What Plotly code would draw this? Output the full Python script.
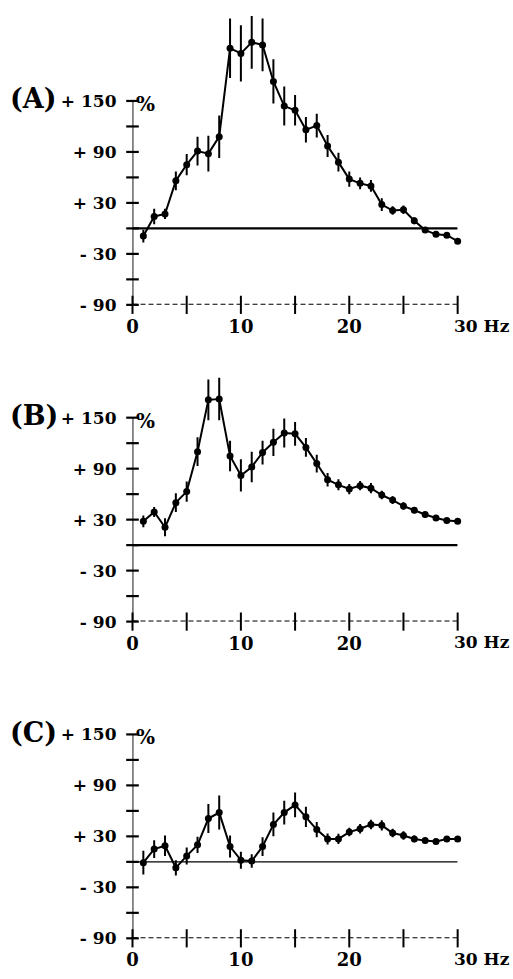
import plotly.graph_objects as go

# ---- data ----
freq_hz = list(range(1, 31))

panel_a = [-9, 14, 17, 56, 75, 91, 88, 108, 212, 206, 219, 216, 173, 144, 139,
           116, 121, 97, 78, 58, 53, 50, 28, 21, 22, 9, -2, -7, -8, -15]
panel_a_err = [7.5, 9, 6, 11, 12.5, 17, 21, 25, 35, 33, 31, 31, 26, 23, 18,
               15, 14, 13, 11, 9, 7, 7, 7.5, 5, 5, 4, 3.5, 3, 3, 3]

panel_b = [28, 39, 21, 50, 63, 110, 171, 172, 105, 82, 92, 109, 121, 132, 131,
           115, 96, 77, 71, 66, 70, 67, 59, 53, 46, 41, 36, 32, 29, 28]
panel_b_err = [7, 6, 10.5, 11, 12, 17, 24, 25, 18, 19, 18, 14, 16, 17, 14,
               11, 10.5, 8, 6.5, 6, 5.5, 6, 5, 4.5, 4.5, 3.5, 3, 3, 2.5, 2.5]

panel_c = [-1, 15, 19, -7, 7, 20, 51, 58, 18, 2, 1, 18, 44, 58, 67,
           53, 38, 27, 27, 35, 39, 44, 43, 34, 31, 27, 25, 24, 27, 27]
panel_c_err = [14, 10.5, 12, 9, 10, 9.5, 17, 20, 13, 10, 8, 11, 14, 14, 14.5,
               12, 9, 6.5, 6, 5, 5.5, 5.5, 6, 5, 5, 4, 3.5, 3, 3, 3]

panel_labels = ["(A)", "(B)", "(C)"]
y_tickvals = [-90, -60, -30, 0, 30, 60, 90, 120, 150]
y_ticktext = ["- 90", "", "- 30", "", "+ 30", "", "+ 90", "", "+ 150"]
x_tickvals = [0, 5, 10, 15, 20, 25, 30]
x_labelvals = [0, 10, 20]
x_labeltext = ["0", "10", "20"]
x_last_label = "30 Hz"
unit_label = "%"

series = [(panel_a, panel_a_err), (panel_b, panel_b_err), (panel_c, panel_c_err)]

# ---- layout geometry (pixels) ----
W, H = 513, 979
x_left_px, x_right_px = 128, 457
y_min, y_max = -90, 262
px_per_unit = 206 / 240.0
panel_bottom_px = [308, 628, 948]   # pixel of y=-90 in each panel

def py(p):
    return 1 - p / H

def px(p):
    return p / W

FONT = "DejaVu Serif"
fig = go.Figure()
layout = dict(
    width=W, height=H, margin=dict(l=0, r=0, t=0, b=0),
    paper_bgcolor="white", plot_bgcolor="white", showlegend=False,
)
shapes = []
annotations = []

for i, ((vals, errs), lab) in enumerate(zip(series, panel_labels)):
    n = "" if i == 0 else str(i + 1)
    xa, ya = "x" + n, "y" + n
    bottom = panel_bottom_px[i]
    top = bottom - (y_max - y_min) * px_per_unit
    layout["xaxis" + n] = dict(
        domain=[px(x_left_px), px(x_right_px)], range=[0, 30], anchor=ya,
        showgrid=False, zeroline=False, showline=False, ticks="",
        tickvals=x_labelvals, ticktext=x_labeltext, ticklabelstandoff=9,
        tickfont=dict(family=FONT, size=18, color="black", weight="bold"),
    )
    layout["yaxis" + n] = dict(
        domain=[py(bottom), py(top)], range=[y_min, y_max], anchor=xa,
        showgrid=False, zeroline=False, showline=False, ticks="",
        tickvals=y_tickvals, ticktext=y_ticktext, ticklabelstandoff=15,
        tickfont=dict(family=FONT, size=17, color="black", weight="bold"),
    )
    # y axis line
    shapes.append(dict(type="line", xref=xa, yref=ya, x0=0, x1=0, y0=-97, y1=150,
                       line=dict(color="black", width=1.8)))
    # dashed x axis
    shapes.append(dict(type="line", xref=xa, yref=ya, x0=0, x1=30, y0=-90, y1=-90,
                       line=dict(color="black", width=2, dash="5px,3px")))
    # zero baseline
    shapes.append(dict(type="line", xref=xa, yref=ya, x0=0, x1=30, y0=0, y1=0,
                       line=dict(color="black", width=2.2 if i < 2 else 1.3)))
    # y ticks (crossing)
    fig.add_trace(go.Scatter(x=[0] * len(y_tickvals), y=y_tickvals, xaxis=xa, yaxis=ya,
                             mode="markers", hoverinfo="skip", cliponaxis=False,
                             marker=dict(symbol="line-ew", size=9, color="black",
                                         line=dict(color="black", width=2.2))))
    # x ticks (crossing)
    fig.add_trace(go.Scatter(x=x_tickvals, y=[-90] * len(x_tickvals), xaxis=xa, yaxis=ya,
                             mode="markers", hoverinfo="skip", cliponaxis=False,
                             marker=dict(symbol="line-ns", size=13, color="black",
                                         line=dict(color="black", width=2))))
    # data
    fig.add_trace(go.Scatter(x=freq_hz, y=vals, xaxis=xa, yaxis=ya,
                             mode="lines+markers", cliponaxis=False,
                             line=dict(color="black", width=2),
                             marker=dict(symbol="circle", size=7, color="black"),
                             error_y=dict(type="data", array=errs, visible=True,
                                          color="black", thickness=2, width=0)))
    y150 = bottom - 240 * px_per_unit
    annotations.append(dict(text=lab, xref="paper", yref="paper", x=px(2), y=py(y150 - 2),
                            xanchor="left", yanchor="middle", showarrow=False,
                            font=dict(family=FONT, size=27, color="black", weight="bold")))
    annotations.append(dict(text=unit_label, xref="paper", yref="paper", x=px(130), y=py(y150 + 3),
                            xanchor="left", yanchor="middle", showarrow=False,
                            font=dict(family=FONT, size=20, color="black", weight="bold")))
    annotations.append(dict(text=x_last_label, xref=xa, yref="paper", x=30, y=py(bottom + 21),
                            xanchor="left", yanchor="middle", showarrow=False, xshift=-6,
                            font=dict(family=FONT, size=17, color="black", weight="bold")))

layout["shapes"] = shapes
layout["annotations"] = annotations
fig.update_layout(**layout)
fig.write_html("out.html")
